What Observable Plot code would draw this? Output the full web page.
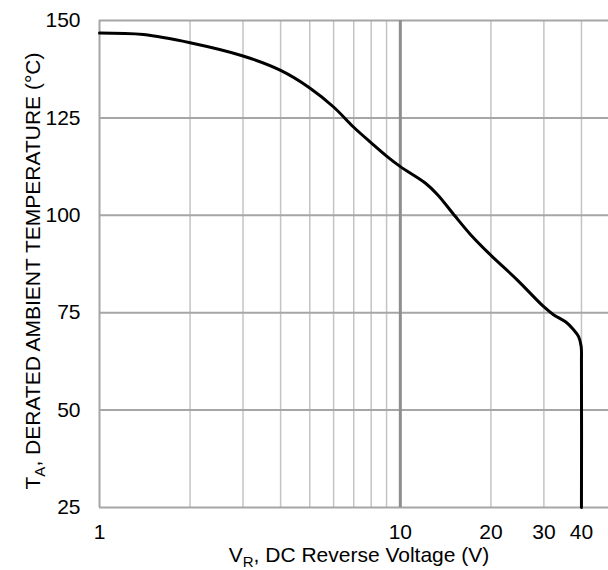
<!DOCTYPE html>
<html>
<head>
<meta charset="utf-8">
<script src="https://cdn.jsdelivr.net/npm/d3@7"></script>
<script src="https://cdn.jsdelivr.net/npm/@observablehq/plot@0.6"></script>
<style>
  html, body { margin: 0; padding: 0; background: #fff; }
  svg { display: block; }
</style>
</head>
<body>
<div id="chart"></div>
<script>
// Curve data
const voltage = [1, 1.4, 2, 3, 4, 5, 6, 7, 8, 9, 10, 12.1, 13.3, 15.2, 17.1, 19.9, 24.4, 29.9, 32.3, 35.5, 37.6, 39.1, 39.9, 40, 40];
const temperature = [146.8, 146.4, 144.3, 140.9, 137.2, 132.7, 127.8, 122.6, 118.6, 115.2, 112.5, 108.3, 105.3, 99.8, 95.1, 89.9, 83.5, 76.6, 74.5, 72.6, 70.7, 68.9, 66.4, 62, 25];

// Axes / grid
const xTicks = [1, 10, 20, 30, 40];
const xMinorGrid = [2, 3, 4, 5, 6, 7, 8, 9, 20, 30, 40];
const xMajorGrid = [10];
const yTicks = [25, 50, 75, 100, 125, 150];

const xLabelMain = "V";
const xLabelSub = "R";
const xLabelRest = ", DC Reverse Voltage (V)";
const yLabelMain = "T";
const yLabelSub = "A";
const yLabelRest = ", DERATED AMBIENT TEMPERATURE (°C)";

const curve = voltage.map((v, i) => ({v, t: temperature[i]}));

const FONT = "'Liberation Sans', Arial, sans-serif";

const chart = Plot.plot({
  width: 608,
  height: 570,
  marginLeft: 99,
  marginRight: 0,
  marginTop: 20,
  marginBottom: 63,
  style: {fontFamily: FONT, fontSize: "21px", color: "#000", background: "#fff"},
  x: {type: "log", domain: [1, 49.2]},
  y: {domain: [25, 150]},
  marks: [
    Plot.ruleX(xMinorGrid, {stroke: "#c4c4c4", strokeWidth: 1.5}),
    Plot.ruleY(yTicks, {stroke: "#a6a6a6", strokeWidth: 2}),
    Plot.ruleX(xMajorGrid, {stroke: "#8e8e8e", strokeWidth: 3}),
    Plot.ruleX([1], {stroke: "#a6a6a6", strokeWidth: 2}),
    Plot.axisX({ticks: xTicks, tickSize: 0, tickPadding: 17, tickFormat: d => String(d), label: null, fontSize: 21}),
    Plot.axisY({ticks: yTicks, tickSize: 0, tickPadding: 19, label: null, fontSize: 21}),
    Plot.line(curve, {x: "v", y: "t", stroke: "#000", strokeWidth: 3, curve: "catmull-rom"})
  ]
});

document.getElementById("chart").appendChild(chart);

const svg = d3.select(chart);
// X axis title with subscript
const xt = svg.append("text")
  .attr("x", 359).attr("y", 562)
  .attr("text-anchor", "middle")
  .attr("font-family", FONT).attr("font-size", 21).attr("fill", "#000");
xt.append("tspan").text(xLabelMain);
xt.append("tspan").attr("font-size", 15).attr("dy", 5).text(xLabelSub);
xt.append("tspan").attr("dy", -5).text(xLabelRest);

// Y axis title with subscript
const yt = svg.append("text")
  .attr("transform", "translate(40,271) rotate(-90)")
  .attr("text-anchor", "middle")
  .attr("font-family", FONT).attr("font-size", 21).attr("fill", "#000");
yt.append("tspan").text(yLabelMain);
yt.append("tspan").attr("font-size", 15).attr("dy", 5).text(yLabelSub);
yt.append("tspan").attr("dy", -5).text(yLabelRest);
</script>
</body>
</html>
